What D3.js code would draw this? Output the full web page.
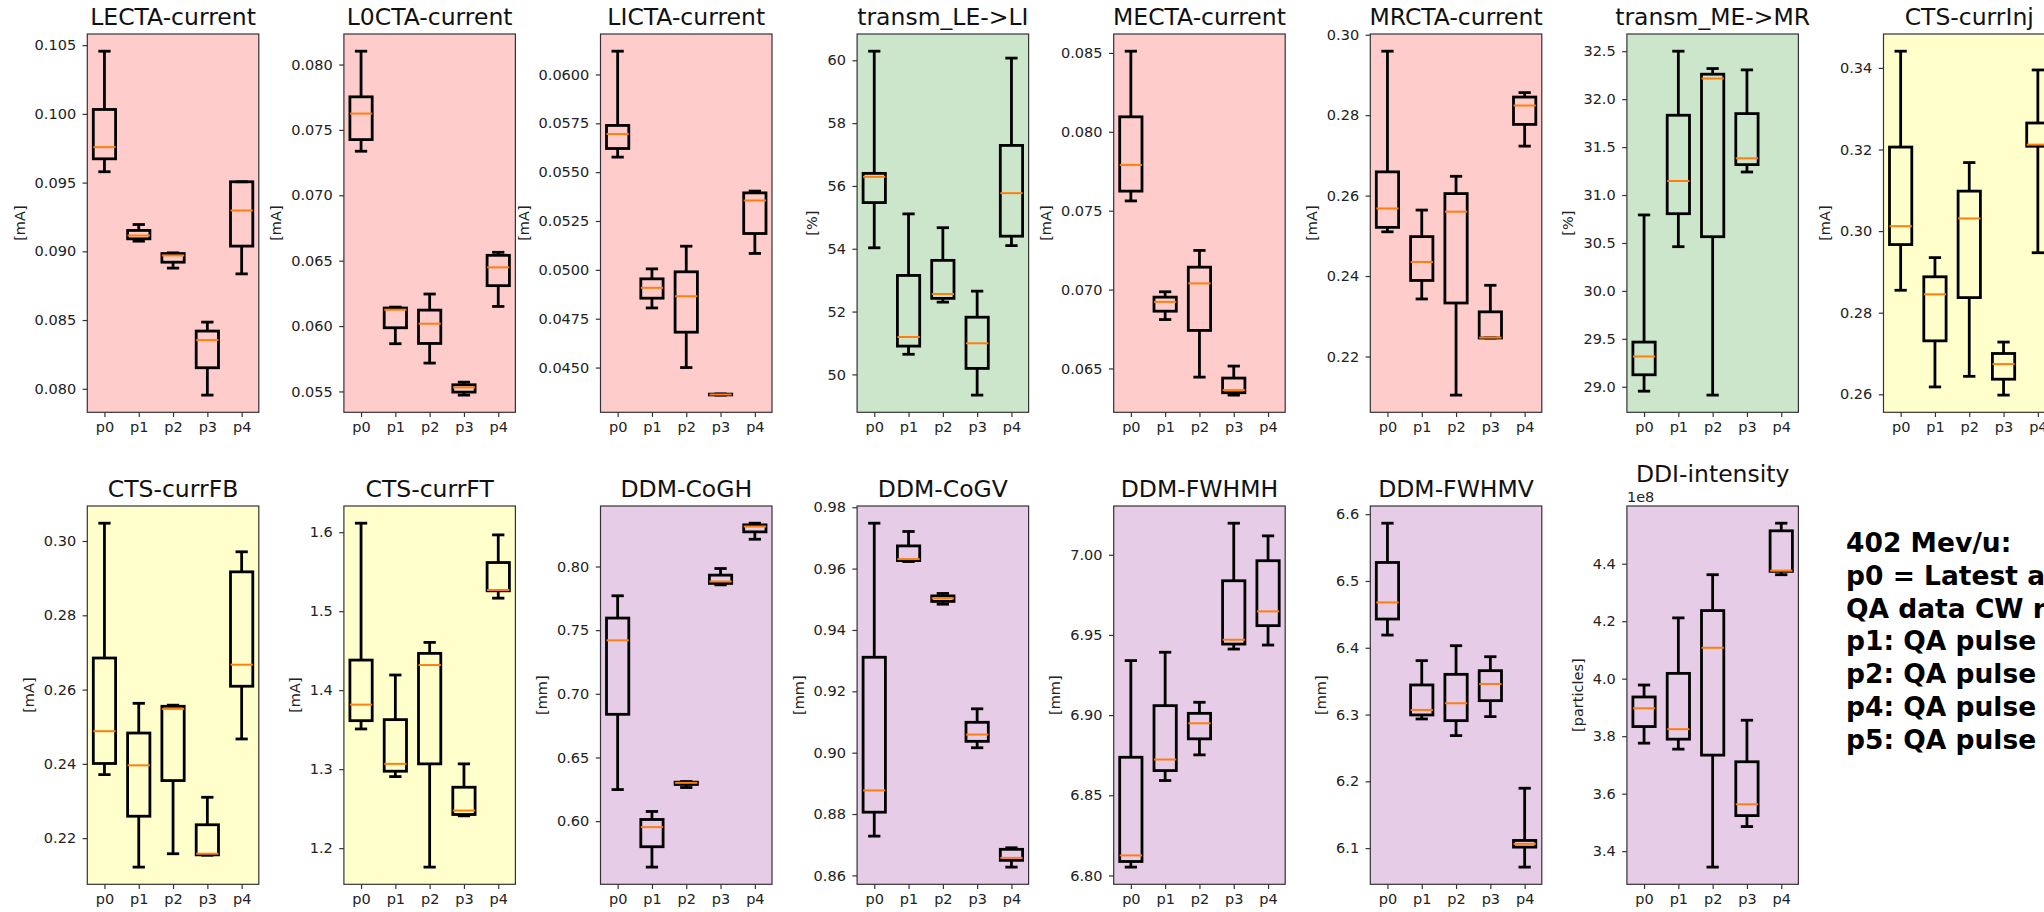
<!DOCTYPE html>
<html>
<head>
<meta charset="utf-8">
<script src="https://cdn.jsdelivr.net/npm/d3@7"></script>
<style>
  html, body { margin: 0; padding: 0; background: #ffffff; }
  svg { display: block; font-family: "DejaVu Sans", sans-serif; }
</style>
</head>
<body>
<svg id="chart" width="2044" height="912"></svg>
<script>
// Each box is [whiskerLow, q1, median, q3, whiskerHigh]; null = no data for that pulse setting
const categories = ["p0", "p1", "p2", "p3", "p4"];

const lectaCurrent = [
  [0.09579, 0.09673, 0.09758, 0.10032, 0.10456],
  [0.09074, 0.09091, 0.09115, 0.09152, 0.09195],
  [0.08878, 0.08921, 0.08970, 0.08984, 0.08989],
  [0.07954, 0.08153, 0.08354, 0.08420, 0.08485],
  [0.08836, 0.09038, 0.09297, 0.09506, 0.09506]
];
const l0ctaCurrent = [
  [0.07337, 0.07426, 0.07625, 0.07753, 0.08102],
  [0.05865, 0.05987, 0.06125, 0.06138, 0.06145],
  [0.05717, 0.05867, 0.06018, 0.06122, 0.06245],
  [0.05472, 0.05495, 0.05531, 0.05551, 0.05571],
  [0.06150, 0.06309, 0.06449, 0.06541, 0.06564]
];
const lictaCurrent = [
  [0.05577, 0.05621, 0.05695, 0.05739, 0.06119],
  [0.04805, 0.04855, 0.04908, 0.04954, 0.05005],
  [0.04500, 0.04681, 0.04865, 0.04990, 0.05121],
  [0.04359, 0.04360, 0.04362, 0.04364, 0.04365],
  [0.05084, 0.05186, 0.05355, 0.05394, 0.05403]
];
const transmLeLi = [
  [54.03, 55.47, 56.29, 56.40, 60.29],
  [50.64, 50.90, 51.19, 53.15, 55.11],
  [52.30, 52.42, 52.56, 53.63, 54.67],
  [49.34, 50.19, 50.99, 51.82, 52.65],
  [54.10, 54.40, 55.77, 57.29, 60.07]
];
const mectaCurrent = [
  [0.07562, 0.07624, 0.07790, 0.08095, 0.08511],
  [0.06810, 0.06863, 0.06922, 0.06952, 0.06986],
  [0.06445, 0.06741, 0.07039, 0.07142, 0.07248],
  [0.06331, 0.06346, 0.06363, 0.06439, 0.06515],
  null
];
const mrctaCurrent = [
  [0.2510, 0.2521, 0.2568, 0.2659, 0.2959],
  [0.2343, 0.2389, 0.2435, 0.2498, 0.2564],
  [0.2104, 0.2333, 0.2560, 0.2605, 0.2648],
  [0.2246, 0.2246, 0.2247, 0.2311, 0.2377],
  [0.2723, 0.2777, 0.2824, 0.2845, 0.2856]
];
const transmMeMr = [
  [28.954, 29.125, 29.316, 29.466, 30.792],
  [30.461, 30.805, 31.146, 31.832, 32.500],
  [28.913, 30.565, 32.215, 32.260, 32.319],
  [31.240, 31.317, 31.383, 31.849, 32.305],
  null
];
const ctsCurrInj = [
  [0.2855, 0.2967, 0.3012, 0.3206, 0.3441],
  [0.2618, 0.2731, 0.2845, 0.2888, 0.2935],
  [0.2644, 0.2837, 0.3031, 0.3098, 0.3168],
  [0.2598, 0.2637, 0.2674, 0.2700, 0.2728],
  [0.2947, 0.3208, 0.3212, 0.3265, 0.3395]
];
const ctsCurrFB = [
  [0.2371, 0.2401, 0.2488, 0.2685, 0.3048],
  [0.2122, 0.2259, 0.2396, 0.2483, 0.2563],
  [0.2158, 0.2355, 0.2548, 0.2555, 0.2558],
  [0.2154, 0.2155, 0.2158, 0.2236, 0.2310],
  [0.2467, 0.2609, 0.2667, 0.2917, 0.2971]
];
const ctsCurrFT = [
  [1.3509, 1.3614, 1.3817, 1.4381, 1.6114],
  [1.2906, 1.2974, 1.3067, 1.3627, 1.4192],
  [1.1760, 1.3067, 1.4318, 1.4466, 1.4605],
  [1.2409, 1.2426, 1.2476, 1.2771, 1.3067],
  [1.5165, 1.5258, 1.5267, 1.5616, 1.5966]
];
const ddmCoGH = [
  [0.6248, 0.6839, 0.7420, 0.7595, 0.7770],
  [0.5639, 0.5799, 0.5953, 0.6013, 0.6076],
  [0.6264, 0.6288, 0.6301, 0.6306, 0.6311],
  [0.7856, 0.7867, 0.7882, 0.7932, 0.7984],
  [0.8214, 0.8272, 0.8314, 0.8327, 0.8340]
];
const ddmCoGV = [
  [0.8728, 0.8806, 0.8877, 0.9311, 0.9748],
  [0.9623, 0.9626, 0.9631, 0.9674, 0.9721],
  [0.9484, 0.9493, 0.9503, 0.9511, 0.9519],
  [0.9016, 0.9037, 0.9059, 0.9099, 0.9143],
  [0.8627, 0.8649, 0.8657, 0.8685, 0.8690]
];
const ddmFWHMH = [
  [6.8052, 6.8087, 6.8125, 6.8737, 6.9340],
  [6.8592, 6.8654, 6.8723, 6.9059, 6.9392],
  [6.8752, 6.8852, 6.8949, 6.9011, 6.9080],
  [6.9412, 6.9443, 6.9470, 6.9838, 7.0197],
  [6.9437, 6.9558, 6.9647, 6.9963, 7.0118]
];
const ddmFWHMV = [
  [6.4190, 6.4430, 6.4679, 6.5277, 6.5865],
  [6.2934, 6.2994, 6.3069, 6.3443, 6.3807],
  [6.2685, 6.2909, 6.3169, 6.3602, 6.4031],
  [6.2969, 6.3208, 6.3458, 6.3657, 6.3866],
  [6.0716, 6.1015, 6.1065, 6.1115, 6.1897]
];
const ddiIntensity = [
  [3.7757e8, 3.8335e8, 3.8971e8, 3.9364e8, 3.9780e8],
  [3.7549e8, 3.7896e8, 3.8243e8, 4.0185e8, 4.2116e8],
  [3.3445e8, 3.7341e8, 4.1075e8, 4.2370e8, 4.3618e8],
  [3.4856e8, 3.5237e8, 3.5630e8, 3.7110e8, 3.8555e8],
  [4.3618e8, 4.3734e8, 4.3757e8, 4.5145e8, 4.5410e8]
];

// Tick values for each panel's value axis
const lectaTicks = [0.080, 0.085, 0.090, 0.095, 0.100, 0.105];
const l0ctaTicks = [0.055, 0.060, 0.065, 0.070, 0.075, 0.080];
const lictaTicks = [0.0450, 0.0475, 0.0500, 0.0525, 0.0550, 0.0575, 0.0600];
const transmLeLiTicks = [50, 52, 54, 56, 58, 60];
const mectaTicks = [0.065, 0.070, 0.075, 0.080, 0.085];
const mrctaTicks = [0.22, 0.24, 0.26, 0.28, 0.30];
const transmMeMrTicks = [29.0, 29.5, 30.0, 30.5, 31.0, 31.5, 32.0, 32.5];
const ctsInjTicks = [0.26, 0.28, 0.30, 0.32, 0.34];
const ctsFBTicks = [0.22, 0.24, 0.26, 0.28, 0.30];
const ctsFTTicks = [1.2, 1.3, 1.4, 1.5, 1.6];
const cogHTicks = [0.60, 0.65, 0.70, 0.75, 0.80];
const cogVTicks = [0.86, 0.88, 0.90, 0.92, 0.94, 0.96, 0.98];
const fwhmHTicks = [6.80, 6.85, 6.90, 6.95, 7.00];
const fwhmVTicks = [6.1, 6.2, 6.3, 6.4, 6.5, 6.6];
const ddiTicks = [3.4e8, 3.6e8, 3.8e8, 4.0e8, 4.2e8, 4.4e8];

// Panel background groups
const colors = {
  ion: "#ffcccc",
  transmission: "#cce6cc",
  cts: "#ffffcc",
  ddm: "#e6cce6"
};

const legendLines = [
  "402 Mev/u:",
  "p0 = Latest available",
  "QA data CW run",
  "p1: QA pulse 1",
  "p2: QA pulse 2",
  "p4: QA pulse 4",
  "p5: QA pulse 5"
];

const fixed = n => v => v.toFixed(n);

const panels = [
  { title: "LECTA-current", unit: "[mA]", group: "ion", data: lectaCurrent, ticks: lectaTicks, fmt: fixed(3), row: 0, col: 0 },
  { title: "L0CTA-current", unit: "[mA]", group: "ion", data: l0ctaCurrent, ticks: l0ctaTicks, fmt: fixed(3), row: 0, col: 1 },
  { title: "LICTA-current", unit: "[mA]", group: "ion", data: lictaCurrent, ticks: lictaTicks, fmt: fixed(4), row: 0, col: 2 },
  { title: "transm_LE->LI", unit: "[%]", group: "transmission", data: transmLeLi, ticks: transmLeLiTicks, fmt: fixed(0), row: 0, col: 3 },
  { title: "MECTA-current", unit: "[mA]", group: "ion", data: mectaCurrent, ticks: mectaTicks, fmt: fixed(3), row: 0, col: 4 },
  { title: "MRCTA-current", unit: "[mA]", group: "ion", data: mrctaCurrent, ticks: mrctaTicks, fmt: fixed(2), row: 0, col: 5 },
  { title: "transm_ME->MR", unit: "[%]", group: "transmission", data: transmMeMr, ticks: transmMeMrTicks, fmt: fixed(1), row: 0, col: 6 },
  { title: "CTS-currInj", unit: "[mA]", group: "cts", data: ctsCurrInj, ticks: ctsInjTicks, fmt: fixed(2), row: 0, col: 7 },
  { title: "CTS-currFB", unit: "[mA]", group: "cts", data: ctsCurrFB, ticks: ctsFBTicks, fmt: fixed(2), row: 1, col: 0 },
  { title: "CTS-currFT", unit: "[mA]", group: "cts", data: ctsCurrFT, ticks: ctsFTTicks, fmt: fixed(1), row: 1, col: 1 },
  { title: "DDM-CoGH", unit: "[mm]", group: "ddm", data: ddmCoGH, ticks: cogHTicks, fmt: fixed(2), row: 1, col: 2 },
  { title: "DDM-CoGV", unit: "[mm]", group: "ddm", data: ddmCoGV, ticks: cogVTicks, fmt: fixed(2), row: 1, col: 3 },
  { title: "DDM-FWHMH", unit: "[mm]", group: "ddm", data: ddmFWHMH, ticks: fwhmHTicks, fmt: fixed(2), row: 1, col: 4 },
  { title: "DDM-FWHMV", unit: "[mm]", group: "ddm", data: ddmFWHMV, ticks: fwhmVTicks, fmt: fixed(1), row: 1, col: 5 },
  { title: "DDI-intensity", unit: "[particles]", group: "ddm", data: ddiIntensity, ticks: ddiTicks, fmt: v => (v / 1e8).toFixed(1), offset: "1e8", row: 1, col: 6 }
];

// Grid geometry
const colStart = 87.3, colStep = 256.6, plotW = 171.5;
const rows = [{ top: 34, bottom: 412.3 }, { top: 506, bottom: 884.3 }];
const boxFrac = 0.65;
const lineW = 2.8;
const tickFont = 14.5;

const svg = d3.select("#chart");

panels.forEach(p => {
  const left = colStart + p.col * colStep;
  const top = rows[p.row].top;
  const h = rows[p.row].bottom - top;
  const w = plotW;

  const g = svg.append("g").attr("transform", `translate(${left},${top})`);

  // y-limits: data extent with 5% margins
  const present = p.data.filter(d => d);
  const lo = d3.min(present, d => d[0]);
  const hi = d3.max(present, d => d[4]);
  const pad = (hi - lo) * 0.05;
  const y = d3.scaleLinear().domain([lo - pad, hi + pad]).range([h, 0]);
  const x = d3.scalePoint().domain(categories).range([0, w]).padding(0.5);
  const bw = x.step() * boxFrac;
  const capW = bw * 0.55;

  g.append("rect").attr("width", w).attr("height", h).attr("fill", colors[p.group]);

  const boxes = g.selectAll("g.box")
    .data(categories.map((c, i) => ({ c, v: p.data[i] })).filter(d => d.v))
    .join("g").attr("class", "box");

  boxes.each(function (d) {
    const b = d3.select(this);
    const cx = x(d.c);
    const [wl, q1, md, q3, wh] = d.v;
    // whiskers
    b.append("line").attr("x1", cx).attr("x2", cx).attr("y1", y(wl)).attr("y2", y(q1))
      .attr("stroke", "#000").attr("stroke-width", lineW);
    b.append("line").attr("x1", cx).attr("x2", cx).attr("y1", y(q3)).attr("y2", y(wh))
      .attr("stroke", "#000").attr("stroke-width", lineW);
    // caps
    [wl, wh].forEach(v => {
      b.append("line").attr("x1", cx - capW / 2).attr("x2", cx + capW / 2)
        .attr("y1", y(v)).attr("y2", y(v))
        .attr("stroke", "#000").attr("stroke-width", lineW);
    });
    // box
    b.append("rect").attr("x", cx - bw / 2).attr("y", y(q3))
      .attr("width", bw).attr("height", Math.max(0, y(q1) - y(q3)))
      .attr("fill", "none").attr("stroke", "#000").attr("stroke-width", lineW);
    // median
    b.append("line").attr("x1", cx - bw / 2).attr("x2", cx + bw / 2)
      .attr("y1", y(md)).attr("y2", y(md))
      .attr("stroke", "#ff7f0e").attr("stroke-width", 2);
  });

  // frame
  g.append("rect").attr("width", w).attr("height", h)
    .attr("fill", "none").attr("stroke", "#333").attr("stroke-width", 1.2);

  // axes
  const yAxis = g.append("g").attr("class", "yaxis")
    .call(d3.axisLeft(y).tickValues(p.ticks).tickFormat(p.fmt).tickSize(4.7).tickPadding(6.5).tickSizeOuter(0));
  const xAxis = g.append("g").attr("class", "xaxis").attr("transform", `translate(0,${h})`)
    .call(d3.axisBottom(x).tickSize(4.7).tickPadding(5).tickSizeOuter(0));

  [yAxis, xAxis].forEach(a => {
    a.select(".domain").remove();
    a.selectAll(".tick line").attr("stroke", "#333").attr("stroke-width", 1.2);
    a.selectAll(".tick text").attr("fill", "#222")
      .style("font-family", "DejaVu Sans, sans-serif").style("font-size", tickFont + "px");
  });

  // unit label to the left of the tick labels
  const bb = yAxis.node().getBBox();
  g.append("text")
    .attr("transform", `translate(${bb.x - 10},${h / 2}) rotate(-90)`)
    .attr("text-anchor", "middle")
    .attr("fill", "#222")
    .style("font-size", tickFont + "px")
    .text(p.unit);

  // scale multiplier above the axis
  if (p.offset) {
    g.append("text").attr("x", 0).attr("y", -4.5)
      .attr("fill", "#222").style("font-size", tickFont + "px").text(p.offset);
  }

  g.append("text")
    .attr("x", w / 2).attr("y", p.offset ? -24.3 : -9)
    .attr("text-anchor", "middle").attr("fill", "#111")
    .style("font-size", "23.5px")
    .text(p.title);
});

// description of the pulse settings
svg.append("g").selectAll("text")
  .data(legendLines)
  .join("text")
  .attr("x", 1846)
  .attr("y", (d, i) => 552 + i * 32.8)
  .attr("fill", "#000")
  .style("font-size", "26.5px")
  .style("font-weight", "bold")
  .text(d => d);
</script>
</body>
</html>
